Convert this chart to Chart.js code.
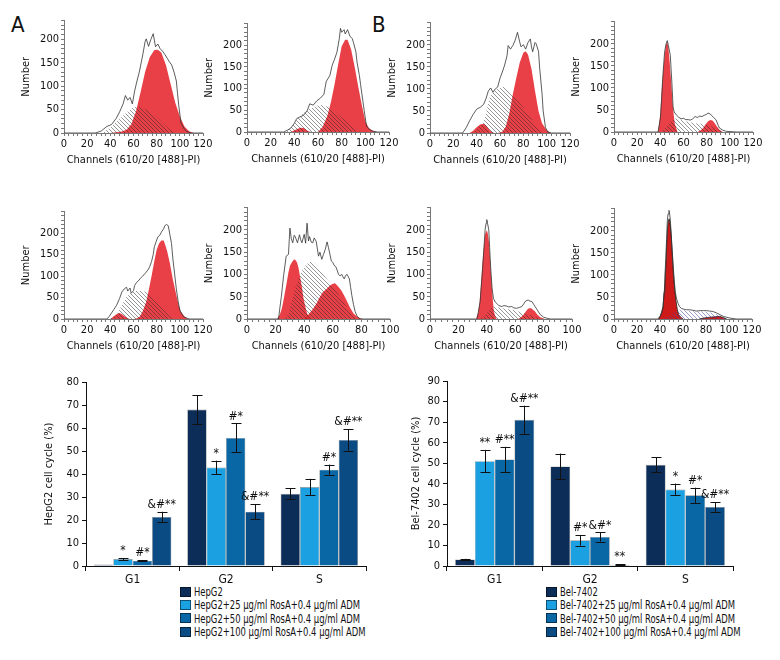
<!DOCTYPE html>
<html>
<head>
<meta charset="utf-8">
<script src="https://cdn.jsdelivr.net/npm/chart.js@4.4.1/dist/chart.umd.min.js"></script>
<style>
  body { margin: 0; background: #fff; width: 780px; height: 660px; position: relative; overflow: hidden;
         font-family: 'Liberation Sans Narrow', 'DejaVu Sans Condensed', sans-serif; color: #111; }
  canvas { position: absolute; }
  .tag { position: absolute; font-size: 22px; }
  .legend { position: absolute; font-size: 13px; }
  .legend div { display: flex; align-items: center; height: 13.3px; white-space: nowrap; }
  .legend .sw { display: inline-block; width: 11px; height: 10px; margin-right: 3px;
                border: 1px solid rgba(0,0,0,0.5); box-sizing: border-box; flex: none; }
  .legend .tx { display: inline-block; transform: scaleX(0.72); transform-origin: left center; }
</style>
</head>
<body>
<div class="tag" style="left:11px;top:12px">A</div>
<div class="tag" style="left:372px;top:12px">B</div>
<div id="legA" class="legend" style="left:180px;top:585px"></div>
<div id="legB" class="legend" style="left:546px;top:585px"></div>

<script>
// ---- histogram data: [channel, count] ----
// 1: HepG2
var h1Outline = [[0,0],[27,0],[32,4],[37,14],[41,18],[45,31],[48,45],[51,62],[53,80],[55,70],[57,76],[59,62],[61,90],[63,111],[65,130],[68,167],[70,195],[71,201],[73,185],[75,200],[77,212],[79,184],[81,190],[83,180],[85,175],[87,168],[89,160],[91,152],[93,145],[95,130],[97,111],[98,85],[99,60],[101,21],[104,8],[106,3],[110,0],[120,0]];
var h1G1 = [];
var h1G2 = [[40,0],[50,3],[54,7],[58,18],[62,45],[66,86],[70,130],[74,162],[78,177],[81,178],[84,172],[88,145],[92,105],[96,65],[100,35],[104,14],[108,4],[112,0]];
var h1S = [[33,0],[40,12],[48,30],[55,46],[60,55],[63,57],[68,53],[74,47],[80,34],[86,19],[92,6],[96,0]];
// 2: HepG2+25
var h2Outline = [[0,0],[31,0],[34,4],[37,9],[40,20],[42,31],[45,35],[48,39],[51,50],[53,65],[56,62],[59,72],[62,78],[65,87],[67,117],[70,130],[72,154],[74,168],[76,184],[78,215],[79,239],[80,230],[82,236],[83,226],[85,236],[87,221],[89,215],[90,206],[92,185],[93,161],[95,130],[96,109],[98,70],[99,50],[101,13],[104,5],[107,1.5],[110,0],[120,0]];
var h2G1 = [[37,0],[41,5],[45,10],[48,9],[51,3],[54,0]];
var h2G2 = [[60,0],[64,12],[68,38],[71,70],[74,110],[77,155],[80,198],[83,213],[85,213],[88,190],[91,150],[94,105],[97,62],[100,25],[103,9],[106,3],[110,0]];
var h2S = [[33,0],[38,12],[42,28],[46,40],[51,50],[56,57],[60,61],[64,62],[68,58],[73,50],[79,36],[85,22],[90,9],[94,2],[96,0]];
// 3: Bel-7402
var h3Outline = [[0,0],[28,0],[31,12],[34,28],[37,42],[40,54],[43,58],[46,65],[48,78],[50,95],[52,102],[54,92],[56,100],[58,104],[60,124],[62,138],[64,154],[66,175],[67,198],[69,190],[71,198],[73,210],[75,228],[77,205],[78,195],[80,200],[82,190],[84,205],[86,213],[87,195],[88,184],[90,205],[91,202],[93,185],[94,147],[96,90],[97,50],[99,12],[101,2],[104,0],[120,0]];
var h3G1 = [[34,0],[37,5],[40,13],[43,19],[46,21],[48,17],[50,10],[52,4],[55,0]];
var h3G2 = [[58,0],[62,3],[65,15],[68,45],[71,88],[74,125],[77,160],[80,182],[82,185],[84,178],[87,145],[90,95],[93,50],[96,22],[100,6],[104,0]];
var h3S = [[36,0],[40,8],[45,21],[48,45],[51,80],[55,95],[60,102],[64,106],[68,96],[72,83],[76,70],[80,58],[85,40],[89,22],[93,8],[97,0]];
// 4: Bel-7402+25
var h4Outline = [[0,0],[38,0],[40,30],[41,71],[42,120],[43.7,182],[45,200],[46,207],[47,195],[48.6,174],[50,110],[51,57],[52,45],[54,38],[56,33],[58,30],[60,31],[62,28],[64,28],[66,27],[68,30],[70,35],[72,33],[74,36],[76,35],[78,38],[80,40],[81,43],[83,41],[84,38],[86,33],[88,28],[90,15],[91,9],[94,4],[97,1.5],[106,0],[120,0]];
var h4G1 = [[38,0],[40,40],[41,86],[42.5,140],[43.7,174],[45,198],[46,204],[47,190],[48,160],[49.5,110],[50.4,71],[51.5,40],[52.4,20],[54,6],[55,0]];
var h4G2 = [[72,0],[75,4],[77,9],[79,17],[81,24],[83,27],[85,26],[87,20],[89,12],[91,5],[94,0]];
var h4S = [[41,0],[45,10],[48,20],[51,28],[54,31],[58,27],[62,24],[66,22],[71,20],[76,18],[80,16],[84,12],[88,9],[91,4],[94,0]];
// 5: HepG2+50
var h5Outline = [[0,0],[37,0],[39,6],[41,14],[43,22],[45.4,32],[48,48],[50,63],[52,70],[54,74],[55,65],[57,72],[58,60],[60,66],[61,78],[62.6,85],[64,88],[66,95],[68,100],[70,106],[72.7,115],[74,122],[75.6,134],[77,150],[78,168],[79.5,180],[81,191],[83,196],[84,202],[86,210],[87,217],[88.5,220],[90,217],[91.5,195],[92.8,176],[94,140],[95.7,100],[97,70],[98.6,40],[100,20],[103,6],[106,2],[108.6,0],[120,0]];
var h5G1 = [[40,0],[42,4],[44,8],[46,12],[48,14],[50,11],[52.6,6],[55,2],[57,0]];
var h5G2 = [[60,0],[63,2],[65.5,6],[68,18],[71,40],[73,65],[75.6,100],[78,135],[80,161],[82,176],[84,183],[86,183],[87,176],[89,158],[91.4,130],[94,92],[97,55],[99,32],[101,17],[104,6],[107,0]];
var h5S = [[40,0],[44,8],[47,17],[50,33],[54,51],[58,61],[62.6,66],[67,65],[71,63],[75,54],[80,40],[84,28],[88.5,14],[92,4],[94,0]];
// 6: HepG2+100
var h6Outline = [[0,0],[22,0],[24,50],[25.6,97],[27.4,141],[29,145],[30,204],[31,180],[32,171],[33,188],[33.7,185],[35.3,171],[36.7,189],[37.5,178],[38.4,171],[40,190],[41,170],[42,215],[43,175],[43.7,185],[45,172],[46,171],[47,182],[48.4,174],[50,141],[51,150],[52.3,134],[53.5,145],[54.7,156],[56,173],[57,160],[58,145],[59,130],[60,127],[61,120],[62,118],[63,110],[64,100],[65,97],[66.3,100],[67,95],[68,90],[69,98],[70,100],[71.6,90],[72.5,70],[73.3,53],[74.5,32],[75.6,17],[77,6],[79,0],[100,0]];
var h6G1 = [[21,0],[23,10],[24.4,24],[26,50],[27.4,75],[29,105],[30,119],[31.5,128],[33,134],[34,132],[35,127],[36,115],[37,97],[38.5,70],[39.5,46],[41,25],[42,13],[44,0]];
var h6G2 = [[40,0],[43,10],[46.5,24],[49,37],[51,50],[53,60],[55.8,68],[58,75],[60,79],[61.5,80],[63,76],[66,64],[68,52],[70,39],[72,26],[74.4,13],[77,5],[79,2],[81,0]];
var h6S = [[26,0],[29,10],[31,35],[33.7,68],[36,90],[38.4,108],[41,120],[43,127],[45,129],[46.5,128],[49,120],[51,112],[53.5,100],[55.8,90],[58,82],[60,75],[63,60],[66,46],[69,30],[72,17],[74.5,7],[76.7,0]];
// 7: Bel-7402+50
var h7Outline = [[0,0],[33,0],[34,15],[35.3,39],[36,70],[37,112],[38,160],[38.8,200],[39.5,215],[40,223],[40.5,215],[41.4,200],[42,160],[42.8,112],[43.7,70],[44.7,46],[46,38],[47,35],[48.5,30],[50.6,28],[52,30],[54,29],[55.5,27],[57.6,28],[59,25],[61,24],[63,26],[64.7,28],[66,34],[67,39],[68.3,42],[69.4,42],[70.5,40],[71.8,39],[73,33],[74,28],[76,18],[77.6,10],[80,4],[82,2],[84.7,0],[100,0]];
var h7G1 = [[32.5,0],[34,15],[35,39],[36,80],[37,127],[38,165],[38.8,189],[39.5,197],[40,200],[40.8,190],[41.6,171],[42.5,125],[43.5,75],[44.3,40],[45,17],[46,6],[47,0]];
var h7G2 = [[62,0],[64,4],[66,10],[67.5,17],[69,23],[70,24],[71.3,24],[72.5,21],[74,17],[75.5,10],[77.6,4],[81,0]];
var h7S = [[35,0],[38,6],[40,13],[42.5,22],[44.7,28],[48,26],[51.8,24],[55,22],[58.8,20],[62,17],[66,13],[70,9],[73,6],[75.5,3],[77.6,0]];
// 8: Bel-7402+100
var h8Outline = [[0,0],[38,0],[40,6],[41.5,14],[42.6,24],[43.5,60],[44.3,100],[45,135],[45.7,180],[46.4,224],[47,238],[47.8,246],[48.3,240],[49,224],[50,180],[51.3,128],[52.3,90],[53.3,61],[54.5,45],[55.7,35],[57,28],[58.6,24],[61,22],[63,21],[65.8,21],[68,20],[71.6,18],[75,19],[78,19],[80.3,19],[83,18],[86,17],[89,14],[92,10],[95,6],[97.7,4],[101,2],[106.4,0],[120,0]];
var h8G1 = [[38.8,0],[40.5,8],[41.6,18],[42.6,28],[43.8,65],[45,113],[45.8,165],[46.7,209],[47.3,222],[48,227],[48.8,215],[49.6,194],[50.6,150],[51.6,105],[52.8,65],[54,39],[55,22],[56.2,10],[58,4],[60,0]];
var h8G2 = [[74,0],[78,2],[83,4],[88,5],[92,6],[95,3],[98,0]];
var h8S = [[42,0],[46,4],[49,8],[51.3,13],[54,18],[57,21],[61,20],[65.8,18],[70,17],[77.4,17],[82,16],[86,13],[90,10],[93.6,6],[96,2],[97.7,0]];

// ---- bar chart data ----
var phases = ['G1', 'G2', 'S'];
var hepLabels = ['HepG2', 'HepG2+25 µg/ml RosA+0.4 µg/ml ADM', 'HepG2+50 µg/ml RosA+0.4 µg/ml ADM', 'HepG2+100 µg/ml RosA+0.4 µg/ml ADM'];
var hep0 = [0.7, 68.0, 31.4],   hep0Err = [0, 6.3, 2.4];
var hep25 = [3.0, 42.8, 34.3],  hep25Err = [0.4, 3.0, 3.6];
var hep50 = [2.3, 55.7, 41.9],  hep50Err = [0.2, 6.3, 2.2];
var hep100 = [21.3, 23.6, 54.8], hep100Err = [2.3, 3.2, 4.7];
var hepMarks = [['', '', ''], ['*', '*', ''], ['#*', '#*', '#*'], ['&#**', '&#**', '&#**']];

var belLabels = ['Bel-7402', 'Bel-7402+25 µg/ml RosA+0.4 µg/ml ADM', 'Bel-7402+50 µg/ml RosA+0.4 µg/ml ADM', 'Bel-7402+100 µg/ml RosA+0.4 µg/ml ADM'];
var bel0 = [3.2, 48.4, 49.2],   bel0Err = [0.3, 6.3, 3.7];
var bel25 = [51.0, 12.5, 37.2], bel25Err = [5.5, 2.6, 2.9];
var bel50 = [51.8, 14.1, 34.4], bel50Err = [6.2, 2.2, 3.7];
var bel100 = [71.1, 0.6, 28.7], bel100Err = [6.9, 0.2, 2.3];
var belMarks = [['', '', ''], ['**', '#*', '*'], ['#**', '&#*', '#*'], ['&#**', '**', '&#**']];

// ---- styles / layout ----
var FONT = "'Liberation Sans Narrow', 'DejaVu Sans Condensed', sans-serif";
Chart.defaults.font.family = FONT;
Chart.defaults.color = '#111';
Chart.defaults.animation = false;

var barColors = ['#0c2d57', '#1ba0e2', '#0a67a6', '#0b4b83'];
var RED = 'rgba(229,38,44,0.88)';

// pixel boxes: x0, x(xMax), xMax, y(0), y(200), yMax
var histBoxes = [
  [64, 203, 120, 133, 37, 240],
  [247, 389, 120, 132, 43, 250],
  [430, 570, 120, 133, 43, 250],
  [614, 753, 120, 132, 42, 250],
  [64, 203, 120, 319, 231, 250],
  [247, 390, 100, 319, 228, 250],
  [430, 572, 100, 319, 228, 250],
  [614, 752, 120, 319, 229, 250]
];

function addCanvas(left, top, w, h) {
  var c = document.createElement('canvas');
  c.width = w; c.height = h;
  c.style.left = left + 'px'; c.style.top = top + 'px';
  document.body.appendChild(c);
  return c;
}

function hatch(ctx, color) {
  var t = document.createElement('canvas');
  t.width = 4; t.height = 4;
  var g = t.getContext('2d');
  g.strokeStyle = color; g.lineWidth = 0.9;
  g.beginPath();
  g.moveTo(-1, -1); g.lineTo(5, 5);
  g.moveTo(-1, 3); g.lineTo(1, 5);
  g.moveTo(3, -1); g.lineTo(5, 1);
  g.stroke();
  return ctx.createPattern(t, 'repeat');
}

function pts(arr) {
  return arr.map(function (p) { return { x: p[0], y: p[1] }; });
}

function makeHist(box, outline, g1, g2, s, dark) {
  var padL = 44, padR = 12, padT = 6, padB = 34;
  var x0 = box[0], x1 = box[1], xMax = box[2], yZero = box[3], y200 = box[4], yMax = box[5];
  var plotH = Math.round((yZero - y200) / 200 * yMax);
  var left = x0 - padL, top = yZero - plotH - padT;
  var c = addCanvas(left, top, (x1 - x0) + padL + padR, plotH + padT + padB);
  var ctx = c.getContext('2d');
  var red = dark ? '#cf1a1a' : RED;
  var redBorder = dark ? '#222' : 'rgba(0,0,0,0)';
  var hatchPat = hatch(ctx, dark ? 'rgba(70,70,150,0.6)' : 'rgba(40,40,40,0.55)');
  var axisGrid = { display: true, drawOnChartArea: false, drawTicks: true, tickLength: 3, color: '#777' };

  new Chart(c, {
    type: 'line',
    data: {
      datasets: [
        { data: pts(outline), borderColor: '#333', borderWidth: 0.8, fill: false },
        { data: pts(s), borderWidth: 0, borderColor: 'rgba(0,0,0,0)', backgroundColor: hatchPat, fill: 'origin' },
        { data: pts(g2), borderWidth: dark ? 0.8 : 0, borderColor: redBorder, backgroundColor: red, fill: 'origin' },
        { data: pts(g1), borderWidth: dark ? 0.8 : 0, borderColor: redBorder, backgroundColor: red, fill: 'origin' }
      ]
    },
    options: {
      responsive: false,
      devicePixelRatio: 1,
      layout: { padding: { top: padT, right: padR, left: 0, bottom: 0 } },
      elements: { point: { radius: 0 }, line: { tension: 0 } },
      plugins: { legend: { display: false }, tooltip: { enabled: false } },
      scales: {
        x: {
          type: 'linear', min: 0, max: xMax,
          afterFit: function (sc) { sc.height = padB; },
          grid: axisGrid,
          border: { color: '#777' },
          ticks: {
            stepSize: 4, maxTicksLimit: 100, autoSkip: false, maxRotation: 0, padding: 2,
            font: { size: 11 },
            callback: function (v) { return v % 20 === 0 ? v : ''; }
          },
          title: { display: true, text: 'Channels (610/20 [488]-PI)', padding: 0, font: { size: 11 } }
        },
        y: {
          min: 0, max: yMax,
          afterFit: function (sc) { sc.width = padL; },
          grid: axisGrid,
          border: { color: '#777' },
          ticks: {
            stepSize: 10, maxTicksLimit: 100, autoSkip: false, padding: 2,
            font: { size: 11 },
            callback: function (v) { return (v % 50 === 0 && v <= 200) ? v : ''; }
          },
          title: { display: true, text: 'Number', padding: 0, font: { size: 11 } }
        }
      }
    }
  });
}

makeHist(histBoxes[0], h1Outline, h1G1, h1G2, h1S, false);
makeHist(histBoxes[1], h2Outline, h2G1, h2G2, h2S, false);
makeHist(histBoxes[2], h3Outline, h3G1, h3G2, h3S, false);
makeHist(histBoxes[3], h4Outline, h4G1, h4G2, h4S, false);
makeHist(histBoxes[4], h5Outline, h5G1, h5G2, h5S, false);
makeHist(histBoxes[5], h6Outline, h6G1, h6G2, h6S, false);
makeHist(histBoxes[6], h7Outline, h7G1, h7G2, h7S, false);
makeHist(histBoxes[7], h8Outline, h8G1, h8G2, h8S, true);

// error bars and significance marks
function barExtras(errs, marks) {
  return {
    id: 'barExtras',
    afterDatasetsDraw: function (chart) {
      var ctx = chart.ctx, y = chart.scales.y;
      ctx.save();
      ctx.strokeStyle = '#111';
      ctx.lineWidth = 1;
      ctx.fillStyle = '#111';
      ctx.font = '12px ' + FONT;
      ctx.textAlign = 'center';
      ctx.textBaseline = 'bottom';
      chart.data.datasets.forEach(function (ds, di) {
        chart.getDatasetMeta(di).data.forEach(function (bar, i) {
          var v = ds.data[i], e = errs[di][i];
          var top = y.getPixelForValue(v + e), bot = y.getPixelForValue(v - e);
          if (e > 0) {
            var bx = Math.round(bar.x) + 0.5;
            ctx.beginPath();
            ctx.moveTo(bx, top); ctx.lineTo(bx, bot);
            ctx.moveTo(bx - 5, Math.round(top) + 0.5); ctx.lineTo(bx + 5, Math.round(top) + 0.5);
            ctx.moveTo(bx - 5, Math.round(bot) + 0.5); ctx.lineTo(bx + 5, Math.round(bot) + 0.5);
            ctx.stroke();
          }
          if (marks[di][i]) ctx.fillText(marks[di][i], bar.x, top - 1);
        });
      });
      ctx.restore();
    }
  };
}

function makeBars(left, top, axisW, plotW, plotH, yMax, yTitle, labels, series, errs, marks) {
  var padT = 10, padR = 8, padB = 26;
  var c = addCanvas(left, top, axisW + plotW + padR, plotH + padT + padB);
  var axisGrid = { display: true, drawOnChartArea: false, drawTicks: true, tickLength: 5, color: '#111' };
  new Chart(c, {
    type: 'bar',
    data: {
      labels: phases,
      datasets: series.map(function (d, k) {
        return {
          label: labels[k], data: d, backgroundColor: barColors[k],
          borderColor: 'rgba(0,0,0,0.45)', borderWidth: 0.6,
          categoryPercentage: 0.83, barPercentage: 1.0
        };
      })
    },
    options: {
      responsive: false,
      devicePixelRatio: 1,
      layout: { padding: { top: padT, right: padR, left: 0, bottom: 0 } },
      plugins: { legend: { display: false }, tooltip: { enabled: false } },
      scales: {
        x: {
          afterFit: function (sc) { sc.height = padB; },
          grid: axisGrid,
          border: { color: '#111' },
          ticks: { font: { size: 12 }, padding: 2 }
        },
        y: {
          min: 0, max: yMax,
          afterFit: function (sc) { sc.width = axisW; },
          grid: { display: true, drawOnChartArea: false, drawTicks: true, tickLength: 4, color: '#111' },
          border: { color: '#111' },
          ticks: { stepSize: 10, font: { size: 11 }, padding: 3 },
          title: { display: true, text: yTitle, font: { size: 11 } }
        }
      }
    },
    plugins: [barExtras(errs, marks)]
  });
}

makeBars(39, 372, 47, 280, 184, 80, 'HepG2 cell cycle (%)', hepLabels,
  [hep0, hep25, hep50, hep100], [hep0Err, hep25Err, hep50Err, hep100Err], hepMarks);
makeBars(406, 371, 41, 286, 185, 90, 'Bel-7402 cell cycle (%)', belLabels,
  [bel0, bel25, bel50, bel100], [bel0Err, bel25Err, bel50Err, bel100Err], belMarks);

function legend(id, labels) {
  var el = document.getElementById(id);
  labels.forEach(function (txt, k) {
    var row = document.createElement('div');
    var sw = document.createElement('span');
    sw.className = 'sw';
    sw.style.background = barColors[k];
    var tx = document.createElement('span');
    tx.className = 'tx';
    tx.textContent = txt;
    row.appendChild(sw);
    row.appendChild(tx);
    el.appendChild(row);
  });
}
legend('legA', hepLabels);
legend('legB', belLabels);
</script>
</body>
</html>
